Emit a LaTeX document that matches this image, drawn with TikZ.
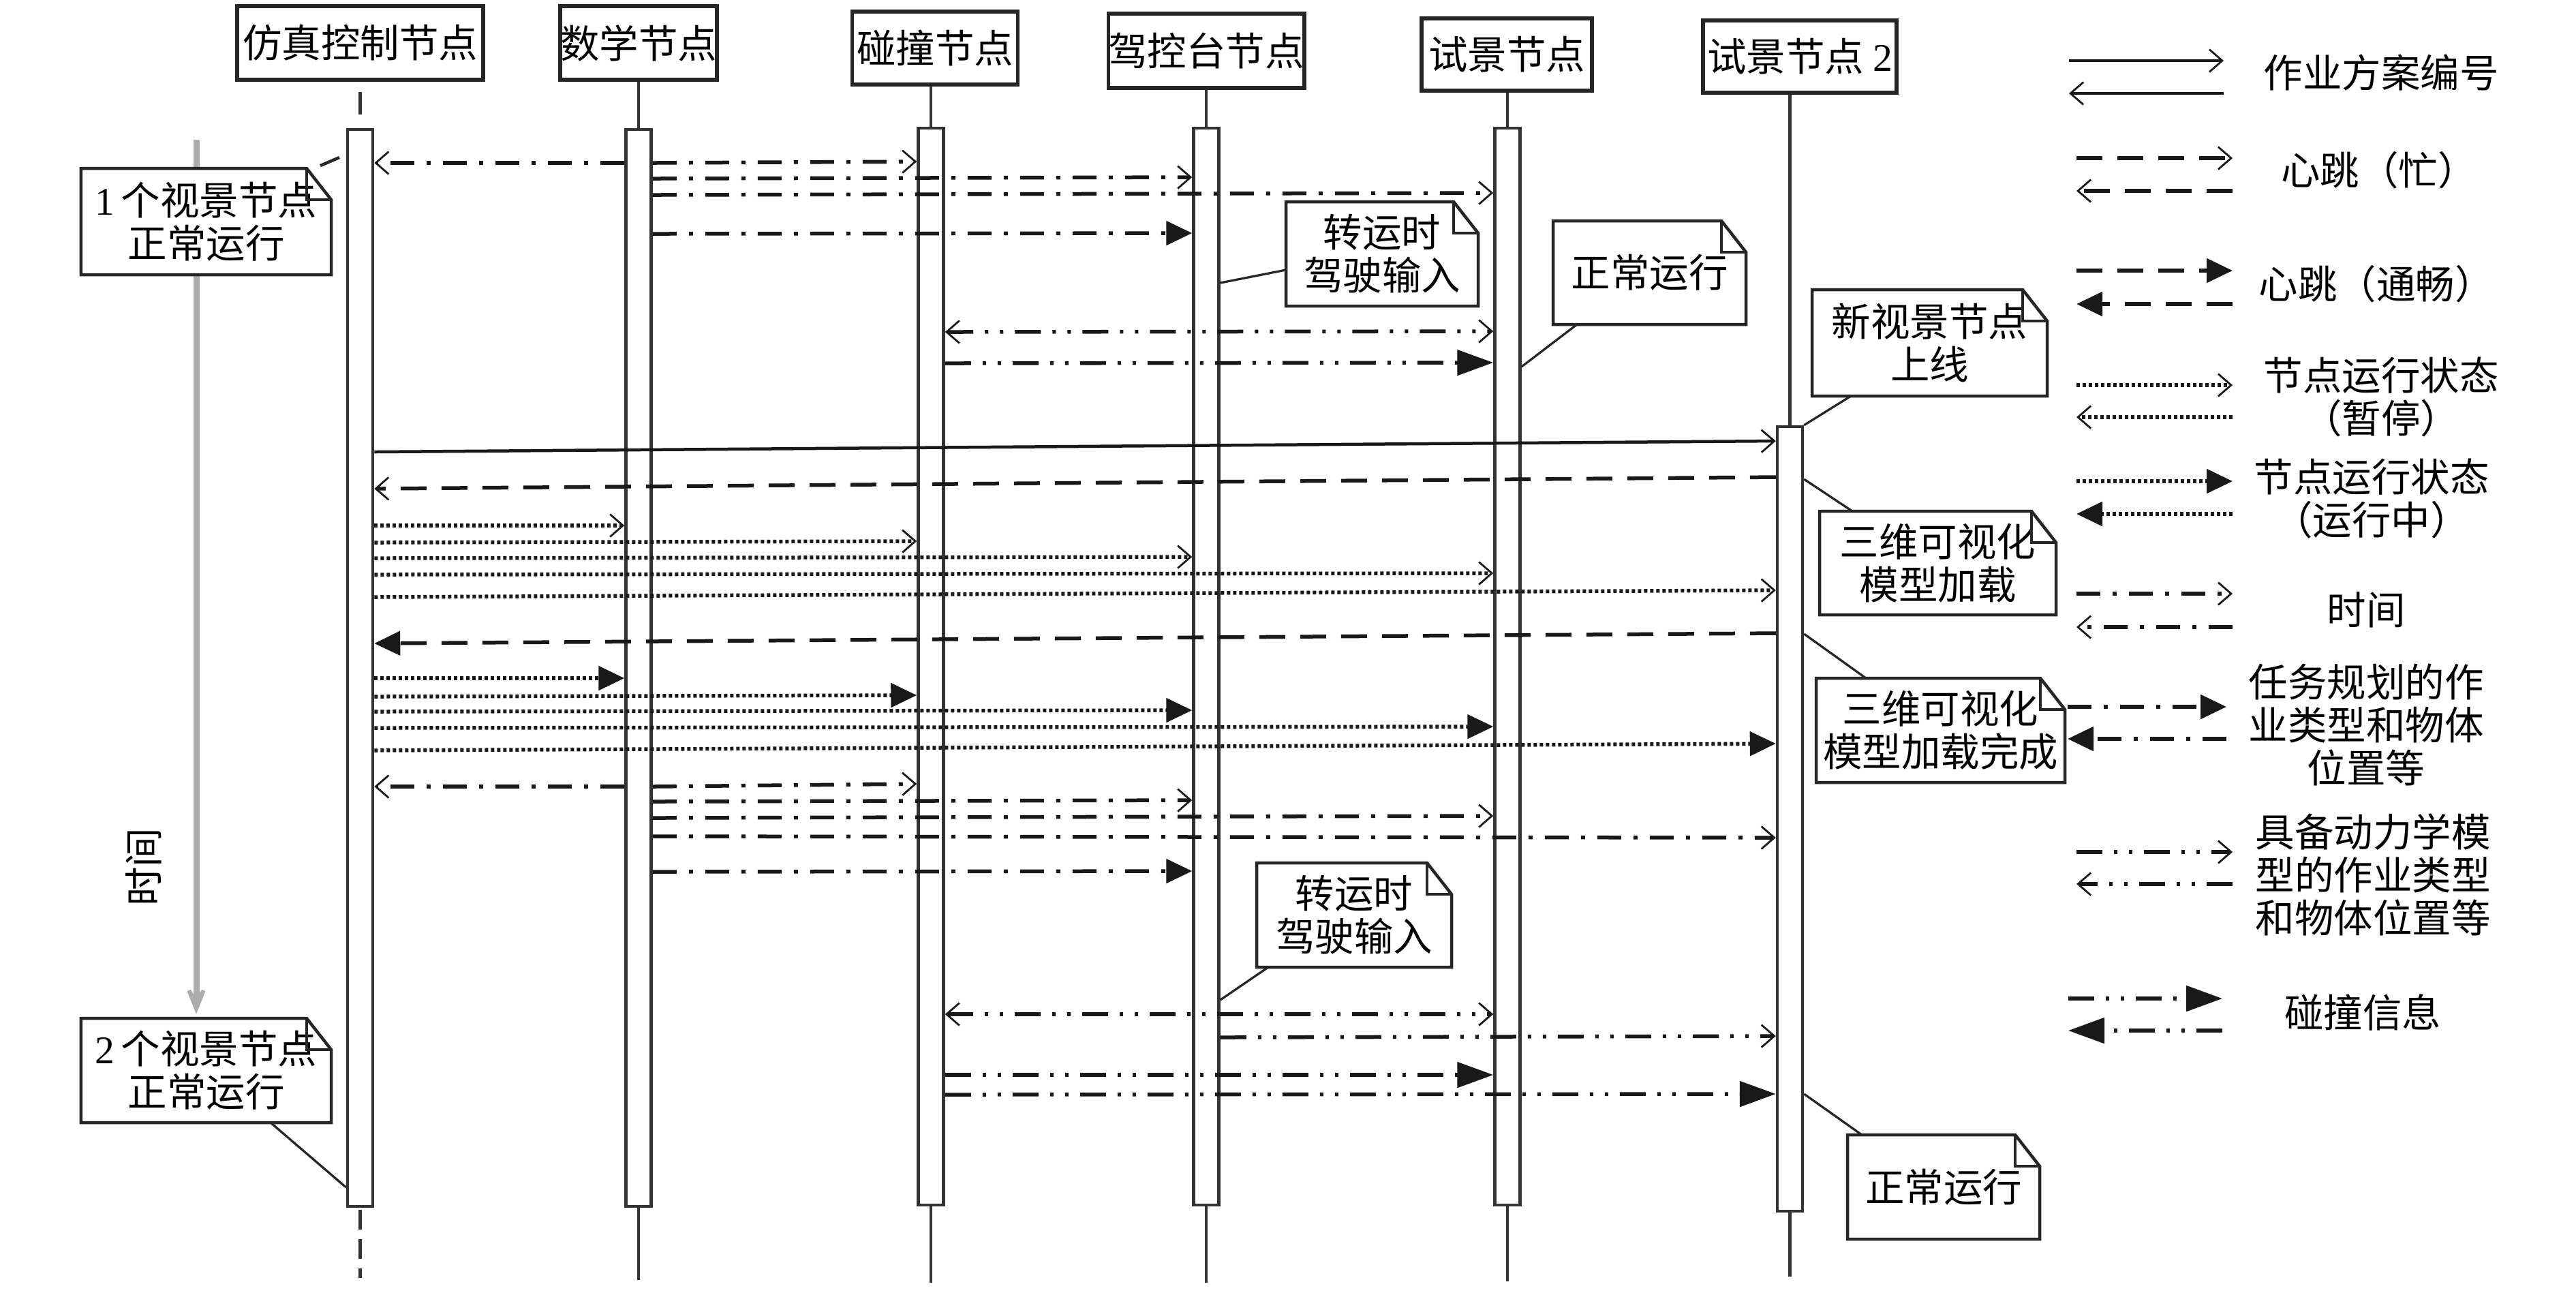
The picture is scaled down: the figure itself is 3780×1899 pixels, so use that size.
\documentclass[tikz,border=0pt]{standalone}
\usepackage{fontspec}
\setmainfont{Noto Sans CJK SC}
\newfontfamily\latf{Liberation Serif}
\usetikzlibrary{arrows.meta,calc}
\newcommand\notefold[1]{%
 \draw[noteline] (#1.north west) -- ($(#1.north east)+(-36,0)$) -- ($(#1.north east)+(0,46)$) -- (#1.south east) -- (#1.south west) -- cycle;
 \draw[noteline] ($(#1.north east)+(-36,0)$) |- ($(#1.north east)+(0,46)$);}
\tikzset{
 txt/.style={font=\fontsize{11.5pt}{12.6pt}\selectfont, inner sep=0pt, align=center},
 hdr/.style={txt, draw=black!85, line width=1.1pt, fill=white},
 act/.style={draw=black!80, line width=0.9pt, fill=white, minimum width=7.4pt, inner sep=0pt},
 life/.style={draw=black!80, line width=0.9pt},
 notebody/.style={txt, fill=white},
 noteline/.style={draw=black!85, line width=0.9pt, line join=miter},
 notelink/.style={draw=black!85, line width=0.65pt},
 msg/.style={line width=1.1pt, draw=black!90},
 mOpen/.style={-{Straight Barb[length=3.8pt,width=6.6pt,line width=0.55pt]}},
 mBoth/.style={{Straight Barb[length=3.8pt,width=6.6pt,line width=0.55pt]}-{Straight Barb[length=3.8pt,width=6.6pt,line width=0.55pt]}},
 mFill/.style={-{Triangle[length=7.6pt,width=7pt]}},
 mColl/.style={-{Triangle[length=10.6pt,width=7.4pt]}},
 pDash/.style={dash pattern=on 7.6pt off 4.4pt},
 pDot/.style={dash pattern=on 1pt off 0.8pt},
 pDD/.style={dash pattern=on 7pt off 3.6pt on 1.2pt off 3.6pt},
 pDDD/.style={dash pattern=on 7.6pt off 3.4pt on 1pt off 3.4pt on 1pt off 3.4pt},
 timearrow/.style={draw=gray!65, line width=1.8pt, -{Stealth[length=12.6pt,width=10pt,inset=8pt]}},
}
\begin{document}
\begin{tikzpicture}[x=0.2pt,y=-0.2pt]
\useasboundingbox (0,0) rectangle (3780,1899);
\fill[white] (0,0) rectangle (3780,1899);

% time arrow
\coordinate (t0) at (288,205);
\coordinate (t1) at (288,1488);
\draw[timearrow] (t0) -- (t1);
\node[txt, rotate=90] (tl) at (211,1272) {时间};

% headers
\node[hdr, minimum width=72.2pt, minimum height=21.6pt] (h1) at (528.5,63) {仿真控制节点};
\node[hdr, minimum width=45.6pt, minimum height=21.6pt] (h2) at (937,63) {数学节点};
\node[hdr, minimum width=48.6pt, minimum height=21.4pt] (h3) at (1372,70.5) {碰撞节点};
\node[hdr, minimum width=55.6pt, minimum height=21.8pt] (h4) at (1770,74.5) {驾控台节点};
\node[hdr, minimum width=50pt, minimum height=21.2pt] (h5) at (2211,80) {试景节点};
\node[hdr, minimum width=56.8pt, minimum height=21.2pt] (h6) at (2641,83) {试景节点 {\latf 2}};

% activation boxes
\node[act, minimum height=316pt] (a1) at (528.5,980) {};
\node[act, minimum height=316pt] (a2) at (937,980) {};
\node[act, minimum height=316pt] (a3) at (1366,978) {};
\node[act, minimum height=316pt] (a4) at (1770,978) {};
\node[act, minimum height=316pt] (a5) at (2212,978) {};
\node[act, minimum height=230.2pt] (a6) at (2626.5,1201.5) {};

% lifelines
\coordinate (e1) at (528.5,1875);
\coordinate (e2) at (937,1878);
\coordinate (e3) at (1366,1882);
\coordinate (e4) at (1770,1882);
\coordinate (e5) at (2212,1880);
\coordinate (e6) at (2626.5,1873);
\draw[life, dash pattern=on 0pt off 3pt on 6.6pt off 6pt] (h1.south) -- (a1.north);
\draw[life, dash pattern=on 0pt off 0.6pt on 5.8pt off 2.2pt] (a1.south) -- (e1);
\draw[life] (h2.south) -- (a2.north);
\draw[life] (a2.south) -- (e2);
\draw[life] (a3.north |- h3.south) -- (a3.north);
\draw[life] (a3.south) -- (e3);
\draw[life] (h4.south) -- (a4.north);
\draw[life] (a4.south) -- (e4);
\draw[life] (a5.north |- h5.south) -- (a5.north);
\draw[life] (a5.south) -- (e5);
\draw[life] (a6.north |- h6.south) -- (a6.north);
\draw[life] (a6.south) -- (e6);

% messages, group 1
\draw[msg,pDD,mOpen] (a2.west |- 0,239) -- (a1.east |- 0,239);
\draw[msg,pDD,mOpen] (a2.east |- 0,239) -- (a3.west |- 0,237);
\draw[msg,pDD,mOpen] (a2.east |- 0,262) -- (a4.west |- 0,260);
\draw[msg,pDD,mOpen] (a2.east |- 0,286) -- (a5.west |- 0,283);
\draw[msg,pDD,mFill] (a2.east |- 0,343) -- (a4.west |- 0,342);
\draw[msg,pDDD,mBoth] (a3.east |- 0,487) -- (a5.west |- 0,486);
\draw[msg,pDDD,mColl] (a3.east |- 0,533) -- (a5.west |- 0,532);
% group 2
\draw[msg,line width=0.9pt,mOpen] (a1.east |- 0,663) -- (a6.west |- 0,647);
\draw[msg,pDash,mOpen] (a6.west |- 0,700) -- (a1.east |- 0,717);
\draw[msg,pDot,mOpen] (a1.east |- 0,771) -- (a2.west |- 0,771);
\draw[msg,pDot,mOpen] (a1.east |- 0,796) -- (a3.west |- 0,794);
\draw[msg,pDot,mOpen] (a1.east |- 0,819) -- (a4.west |- 0,817);
\draw[msg,pDot,mOpen] (a1.east |- 0,843) -- (a5.west |- 0,841);
\draw[msg,pDot,mOpen] (a1.east |- 0,876) -- (a6.west |- 0,866);
\draw[msg,pDash,mFill] (a6.west |- 0,929) -- (a1.east |- 0,944);
\draw[msg,pDot,mFill] (a1.east |- 0,995) -- (a2.west |- 0,995);
\draw[msg,pDot,mFill] (a1.east |- 0,1022) -- (a3.west |- 0,1020);
\draw[msg,pDot,mFill] (a1.east |- 0,1044) -- (a4.west |- 0,1042);
\draw[msg,pDot,mFill] (a1.east |- 0,1068) -- (a5.west |- 0,1066);
\draw[msg,pDot,mFill] (a1.east |- 0,1101) -- (a6.west |- 0,1091);
% group 3
\draw[msg,pDD,mOpen] (a2.west |- 0,1154) -- (a1.east |- 0,1154);
\draw[msg,pDD,mOpen] (a2.east |- 0,1154) -- (a3.west |- 0,1150);
\draw[msg,pDD,mOpen] (a2.east |- 0,1176) -- (a4.west |- 0,1174);
\draw[msg,pDD,mOpen] (a2.east |- 0,1200) -- (a5.west |- 0,1197);
\draw[msg,pDD,mOpen] (a2.east |- 0,1227) -- (a6.west |- 0,1229);
\draw[msg,pDD,mFill] (a2.east |- 0,1279) -- (a4.west |- 0,1278);
\draw[msg,pDDD,mBoth] (a3.east |- 0,1488) -- (a5.west |- 0,1488);
\draw[msg,pDDD,mOpen] (a4.east |- 0,1522) -- (a6.west |- 0,1520);
\draw[msg,pDDD,mColl] (a3.east |- 0,1577) -- (a5.west |- 0,1577);
\draw[msg,pDDD,mColl] (a3.east |- 0,1606) -- (a6.west |- 0,1605);

% notes
\node[notebody, minimum width=73pt, minimum height=30.8pt] (n1) at (302.5,325) {{\latf 1}\,个视景节点\\正常运行};
\notefold{n1}
\coordinate (c1) at (498,231);
\draw[notelink,line width=0.9pt] ($(n1.north east)+(-16,-4)$) -- (c1);

\node[notebody, minimum width=56pt, minimum height=30.2pt] (n2) at (2028,372.5) {转运时\\驾驶输入};
\notefold{n2}
\draw[notelink] (n2.west |- 0,396) -- (a4.east |- 0,415);

\node[notebody, minimum width=56.2pt, minimum height=30pt] (n3) at (2420.5,400) {正常运行};
\notefold{n3}
\draw[notelink] ($(n3.south west)+(35,0)$) -- (a5.east |- 0,538);

\node[notebody, minimum width=68.6pt, minimum height=30.8pt] (n4) at (2831.5,503) {新视景节点\\上线};
\notefold{n4}
\draw[notelink] ($(n4.south west)+(57,0)$) -- (a6.north east);

\node[notebody, minimum width=69pt, minimum height=30pt] (n5) at (2843.5,826) {三维可视化\\模型加载};
\notefold{n5}
\draw[notelink] ($(n5.north west)+(48,0)$) -- (a6.east |- 0,703);

\node[notebody, minimum width=72.6pt, minimum height=30.2pt] (n6) at (2847.5,1071.5) {三维可视化\\模型加载完成};
\notefold{n6}
\draw[notelink] ($(n6.north west)+(73,0)$) -- (a6.east |- 0,930);

\node[notebody, minimum width=56pt, minimum height=30.2pt] (n7) at (2852,1741.5) {正常运行};
\notefold{n7}
\draw[notelink] ($(n7.north west)+(21,0)$) -- (a6.east |- 0,1605);

\node[notebody, minimum width=73pt, minimum height=30.2pt] (n8) at (302.5,1570.5) {{\latf 2}\,个视景节点\\正常运行};
\notefold{n8}
\draw[notelink] ($(n8.south west)+(278,0)$) -- (a1.west |- 0,1742);

\node[notebody, minimum width=56.8pt, minimum height=30.2pt] (n9) at (1987,1342.5) {转运时\\驾驶输入};
\notefold{n9}
\draw[notelink] ($(n9.south west)+(17,0)$) -- (a4.east |- 0,1467);

% legend
\draw[msg,line width=0.9pt,mOpen] (3036,89) -- (3263,89);
\draw[msg,line width=0.9pt,mOpen] (3263,137) -- (3036,137);
\node[txt] (l1) at (3494,107) {作业方案编号};
\draw[msg,pDash,mOpen] (3047,232) -- (3276,232);
\draw[msg,pDash,mOpen] (3276,280) -- (3047,280);
\node[txt] (l2) at (3491,250) {心跳（忙）};
\draw[msg,pDash,mFill] (3047,397) -- (3276,397);
\draw[msg,pDash,mFill] (3276,446) -- (3047,446);
\node[txt] (l3) at (3487,417) {心跳（通畅）};
\draw[msg,pDot,mOpen] (3047,565) -- (3276,565);
\draw[msg,pDot,mOpen] (3276,612) -- (3047,612);
\node[txt] (l4) at (3494,582.5) {节点运行状态\\（暂停）};
\draw[msg,pDot,mFill] (3047,706) -- (3276,706);
\draw[msg,pDot,mFill] (3276,754) -- (3047,754);
\node[txt] (l5) at (3480,731.5) {节点运行状态\\（运行中）};
\draw[msg,pDD,mOpen] (3047,871) -- (3276,871);
\draw[msg,pDD,mOpen] (3276,920) -- (3047,920);
\node[txt] (l6) at (3472,895) {时间};
\draw[msg,pDD,mFill] (3034,1037) -- (3267,1037);
\draw[msg,pDD,mFill] (3267,1084) -- (3034,1084);
\node[txt] (l7) at (3472,1063.5) {任务规划的作\\业类型和物体\\位置等};
\draw[msg,pDDD,mOpen] (3047,1250) -- (3276,1250);
\draw[msg,pDDD,mOpen] (3276,1297) -- (3047,1297);
\node[txt] (l8) at (3482,1283.5) {具备动力学模\\型的作业类型\\和物体位置等};
\draw[msg,pDDD,mColl] (3035,1465) -- (3261,1465);
\draw[msg,pDDD,mColl] (3261,1512) -- (3035,1512);
\node[txt] (l9) at (3467,1485) {碰撞信息};
\end{tikzpicture}
\end{document}
